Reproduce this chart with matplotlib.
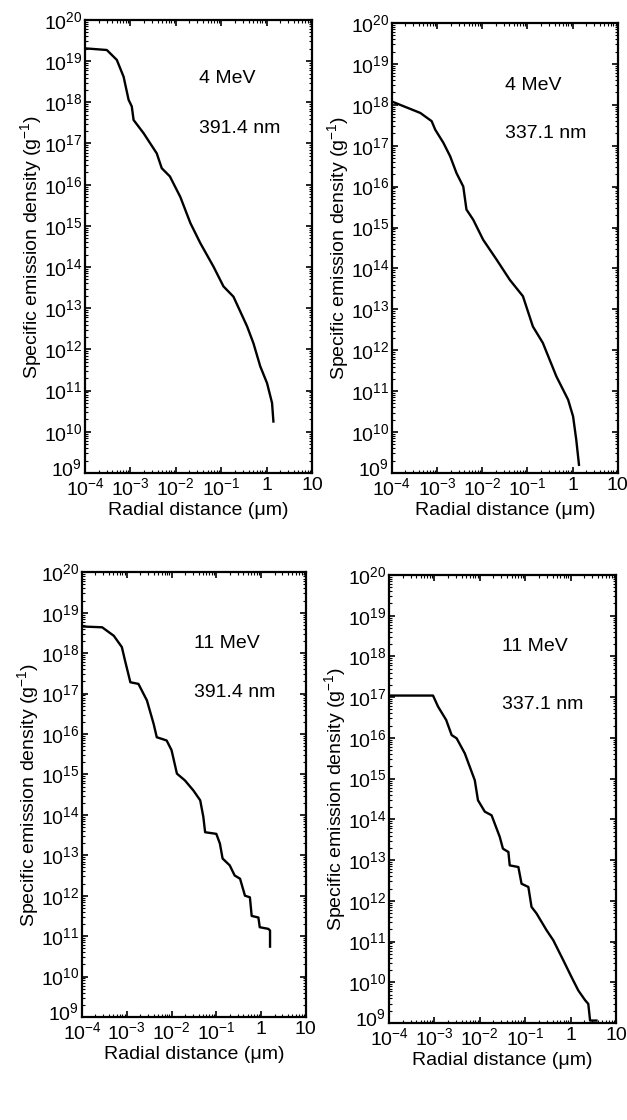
import numpy as np
import matplotlib.pyplot as plt
import matplotlib.transforms as mtransforms
from matplotlib.ticker import LogLocator, NullFormatter

plt.rcParams.update({'font.family': ['Liberation Sans', 'DejaVu Sans'],
                     'mathtext.default': 'regular', 'font.size': 14})

# log10 of radial distance (um) and log10 of specific emission density (g^-1)
x_4_391 = [-4.0, -3.52, -3.30, -3.15, -3.04, -2.97, -2.93, -2.71, -2.42, -2.31, -2.13, -1.90,
           -1.68, -1.46, -1.17, -0.95, -0.73, -0.43, -0.29, -0.14, 0.01, 0.12, 0.15]
y_4_391 = [19.31, 19.27, 19.03, 18.62, 18.06, 17.90, 17.57, 17.25, 16.76, 16.40, 16.20, 15.70,
           15.07, 14.58, 14.01, 13.53, 13.28, 12.56, 12.15, 11.59, 11.18, 10.70, 10.25]

x_4_337 = [-4.0, -3.37, -3.12, -3.04, -2.86, -2.71, -2.57, -2.42, -2.35, -2.20, -1.98, -1.68,
           -1.39, -1.10, -0.88, -0.66, -0.36, -0.10, 0.01, 0.08, 0.14]
y_4_337 = [18.08, 17.80, 17.60, 17.39, 17.07, 16.74, 16.33, 16.00, 15.44, 15.19, 14.70, 14.21,
           13.72, 13.32, 12.58, 12.18, 11.36, 10.79, 10.38, 9.81, 9.20]

x_11_391 = [-4.0, -3.55, -3.29, -3.11, -3.04, -2.92, -2.74, -2.55, -2.40, -2.33, -2.11, -2.00,
            -1.88, -1.70, -1.51, -1.36, -1.29, -1.25, -1.00, -0.92, -0.86, -0.70, -0.59, -0.47,
            -0.36, -0.25, -0.21, -0.06, -0.03, 0.16, 0.20, 0.20]
y_11_391 = [18.66, 18.64, 18.43, 18.15, 17.82, 17.28, 17.24, 16.83, 16.25, 15.92, 15.84, 15.60,
            15.02, 14.85, 14.60, 14.36, 13.95, 13.57, 13.53, 13.29, 12.92, 12.75, 12.50, 12.42,
            12.00, 11.96, 11.50, 11.46, 11.22, 11.18, 11.14, 10.74]

x_11_337 = [-4.0, -3.03, -2.92, -2.74, -2.62, -2.51, -2.33, -2.22, -2.11, -2.04, -1.89, -1.74,
            -1.56, -1.49, -1.37, -1.34, -1.15, -1.08, -0.93, -0.86, -0.75, -0.53, -0.38, -0.16,
            0.02, 0.17, 0.32, 0.39, 0.43, 0.57]
y_11_337 = [17.04, 17.04, 16.77, 16.44, 16.07, 15.99, 15.62, 15.29, 14.96, 14.47, 14.19, 14.10,
            13.57, 13.28, 13.20, 12.87, 12.83, 12.42, 12.34, 11.85, 11.69, 11.28, 11.03, 10.54,
            10.13, 9.80, 9.56, 9.47, 9.06, 9.06]

panels = [
    ([0.1356, 0.5777, 0.362, 0.4045], x_4_391, y_4_391, '4 MeV', '391.4 nm', 0.87, 0.76),
    ([0.625, 0.5777, 0.3604, 0.4018], x_4_337, y_4_337, '4 MeV', '337.1 nm', 0.86, 0.755),
    ([0.1308, 0.092, 0.357, 0.397], x_11_391, y_11_391, '11 MeV', '391.4 nm', 0.84, 0.73),
    ([0.6204, 0.0866, 0.362, 0.40], x_11_337, y_11_337, '11 MeV', '337.1 nm', 0.84, 0.71),
]

xticks = [1e-4, 1e-3, 1e-2, 1e-1, 1, 10]
xlabels = ['$10^{-4}$', '$10^{-3}$', '$10^{-2}$', '$10^{-1}$', '1', '10']
yticks = [10.0 ** k for k in range(9, 21)]
ylabels = ['$10^{%d}$' % k for k in range(9, 21)]

fig = plt.figure(figsize=(6.27, 11.2), dpi=100)
for rect, lx, ly, energy, wl, ty1, ty2 in panels:
    ax = fig.add_axes(rect)
    ax.plot(10.0 ** np.array(lx), 10.0 ** np.array(ly), color='black', linewidth=1.7)
    ax.set_xscale('log')
    ax.set_yscale('log')
    ax.set_xlim(1e-4, 10)
    ax.set_ylim(1e9, 1e20)
    ax.set_xticks(xticks)
    ax.set_xticklabels(xlabels)
    ax.set_yticks(yticks)
    ax.set_yticklabels(ylabels)
    ax.xaxis.set_minor_locator(LogLocator(base=10, subs=np.arange(2, 10), numticks=100))
    ax.yaxis.set_minor_locator(LogLocator(base=10, subs=np.arange(2, 10), numticks=100))
    ax.xaxis.set_minor_formatter(NullFormatter())
    ax.yaxis.set_minor_formatter(NullFormatter())
    ax.tick_params(which='both', direction='in', top=True, right=True)
    ax.tick_params(which='major', length=4, width=1.2, pad=2)
    ax.tick_params(axis='x', which='major', pad=3)
    ax.tick_params(which='minor', length=2, width=0.8)
    for s in ax.spines.values():
        s.set_linewidth(1.6)
    # lift the bottom y label a little so it sits clear of the 10^-4 label
    lab = ax.get_yticklabels()[0]
    lab.set_transform(lab.get_transform() +
                      mtransforms.ScaledTranslation(0, 4 / 72, fig.dpi_scale_trans))
    ax.set_xlabel('Radial distance (\u03bcm)', labelpad=2)
    ax.set_ylabel('Specific emission density (g$^{-1}$)', labelpad=0)
    ax.text(0.5, ty1, energy, transform=ax.transAxes, fontsize=14, va='center')
    ax.text(0.5, ty2, wl, transform=ax.transAxes, fontsize=14, va='center')

fig.savefig('out.png', dpi=100)
